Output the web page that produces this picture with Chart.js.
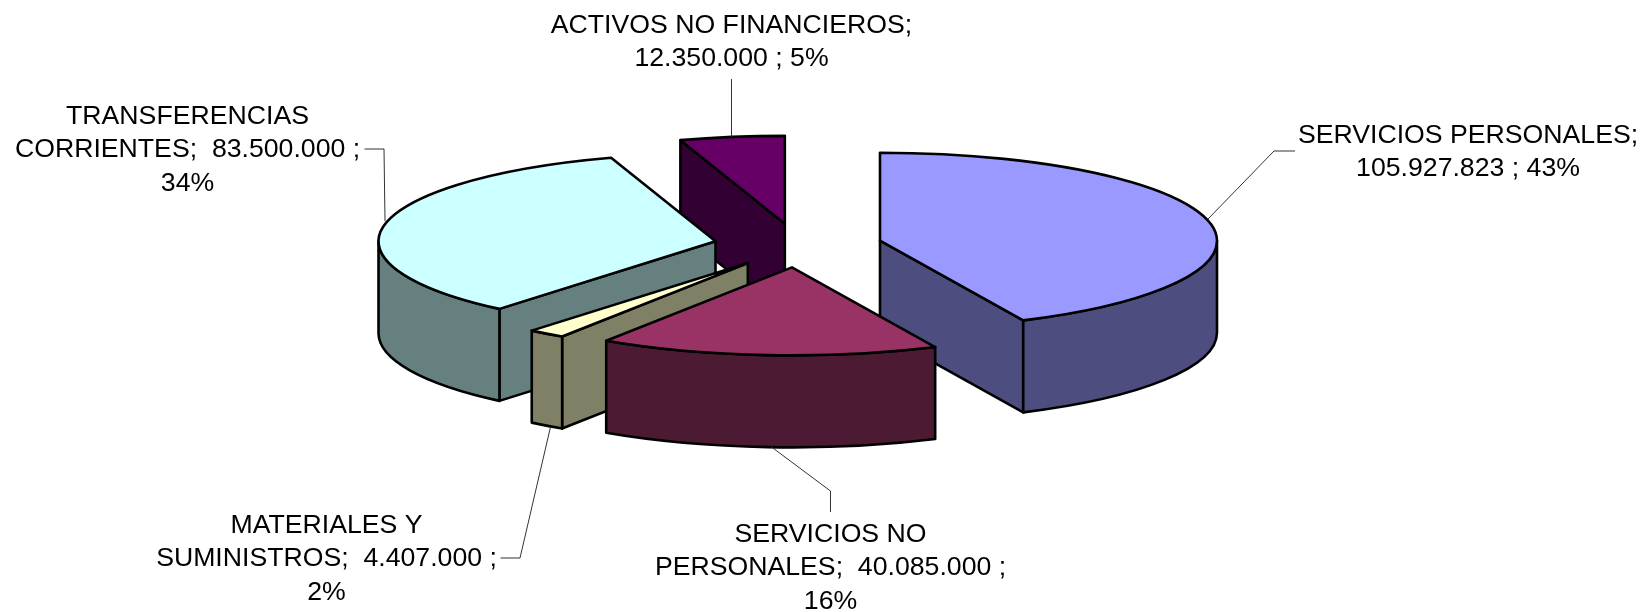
<!DOCTYPE html>
<html>
<head>
<meta charset="utf-8">
<style>
html,body{margin:0;padding:0;background:#fff;}
canvas{display:block;}
</style>
<script src="https://cdn.jsdelivr.net/npm/chart.js@4/dist/chart.umd.min.js"></script>
</head>
<body>
<canvas id="c" width="1646" height="612"></canvas>
<script>
const categories = ["SERVICIOS PERSONALES","SERVICIOS NO PERSONALES","MATERIALES Y SUMINISTROS","TRANSFERENCIAS CORRIENTES","ACTIVOS NO FINANCIEROS"];
const values = [105927823, 40085000, 4407000, 83500000, 12350000];
const topColors = ["#9999FF","#993366","#FFFFCC","#CCFFFF","#660066"];
const wallColors = ["#4D4D80","#4D1A33","#808066","#668080","#330033"];

const labelLines = [
  ["SERVICIOS PERSONALES;","105.927.823 ; 43%"],
  ["SERVICIOS NO","PERSONALES;  40.085.000 ;","16%"],
  ["MATERIALES Y","SUMINISTROS;  4.407.000 ;","2%"],
  ["TRANSFERENCIAS","CORRIENTES;  83.500.000 ;","34%"],
  ["ACTIVOS NO FINANCIEROS;","12.350.000 ; 5%"]
];
const labelAnchors = [[1468,143],[830.5,542],[326.5,533],[187.5,124],[731.5,33]];
const leaders = [
  [[1295,151],[1274,151],[1208,219]],
  [[830.5,512],[830.5,491],[771.5,447]],
  [[500.5,558],[520,558],[550.5,427]],
  [[364.5,149],[384,149],[385,221]],
  [[731.5,79],[731.5,137]]
];
const drawOrder = [4,3,2,0,1];

const RADIUS = 337, SQUASH = 88/337, EXPLODE = 84, DEPTH = 92, CENTER_X = 798, CENTER_Y = 245.5;
const FONT = '26.67px "Liberation Sans", Arial, sans-serif', LINE_H = 33.3;

const pie3d = {
  id:'pie3d',
  beforeDatasetsDraw(chart){
    const ctx = chart.ctx;
    const arcs = chart.getDatasetMeta(0).data;
    ctx.save();
    ctx.lineJoin = 'round';
    ctx.lineCap = 'round';
    ctx.lineWidth = 2.6;
    ctx.strokeStyle = '#000';
    drawOrder.forEach(i => {
      const arc = arcs[i];
      const a0 = arc.startAngle, a1 = arc.endAngle, mid = (a0+a1)/2;
      const R = arc.outerRadius, ry = R*SQUASH;
      const ox = EXPLODE*Math.cos(mid), oy = EXPLODE*Math.sin(mid);
      const sx = arc.x + ox, sy = arc.y + oy*SQUASH;
      const pt = a => [sx + R*Math.cos(a), sy + ry*Math.sin(a)];
      ctx.fillStyle = wallColors[i];
      const face = a => {
        const p = pt(a);
        ctx.beginPath();
        ctx.moveTo(sx,sy); ctx.lineTo(p[0],p[1]);
        ctx.lineTo(p[0],p[1]+DEPTH); ctx.lineTo(sx,sy+DEPTH);
        ctx.closePath(); ctx.fill(); ctx.stroke();
      };
      if (Math.cos(a0) < -1e-6) face(a0);
      if (Math.cos(a1) > 1e-6) face(a1);
      const w0 = Math.max(a0,0), w1 = Math.min(a1,Math.PI);
      if (w1 > w0) {
        ctx.beginPath();
        ctx.ellipse(sx,sy,R,ry,0,w0,w1,false);
        ctx.ellipse(sx,sy+DEPTH,R,ry,0,w1,w0,true);
        ctx.closePath(); ctx.fill(); ctx.stroke();
      }
      ctx.save();
      ctx.translate(0,arc.y); ctx.scale(1,SQUASH); ctx.translate(0,-arc.y);
      ctx.translate(ox,oy);
      arc.draw(ctx);
      ctx.restore();
      const p = pt(a0);
      ctx.beginPath();
      ctx.moveTo(sx,sy); ctx.lineTo(p[0],p[1]);
      ctx.ellipse(sx,sy,R,ry,0,a0,a1,false);
      ctx.closePath(); ctx.stroke();
    });
    ctx.restore();
    return false;
  },
  afterDraw(chart){
    const ctx = chart.ctx;
    ctx.save();
    ctx.strokeStyle = '#333';
    ctx.lineWidth = 1;
    leaders.forEach(l => {
      ctx.beginPath();
      l.forEach((p,j) => j ? ctx.lineTo(p[0],p[1]) : ctx.moveTo(p[0],p[1]));
      ctx.stroke();
    });
    ctx.fillStyle = '#000';
    ctx.font = FONT;
    ctx.textAlign = 'center';
    ctx.textBaseline = 'alphabetic';
    labelLines.forEach((lines,i) => lines.forEach((t,j) =>
      ctx.fillText(t,labelAnchors[i][0],labelAnchors[i][1]+j*LINE_H)));
    ctx.restore();
  }
};

new Chart(document.getElementById('c'),{
  type:'pie',
  data:{labels:categories,datasets:[{data:values,backgroundColor:topColors,borderWidth:0}]},
  options:{
    responsive:false,animation:false,events:[],
    radius:RADIUS,
    layout:{padding:{left:0,top:0,right:1646-2*CENTER_X,bottom:612-2*CENTER_Y}},
    plugins:{legend:{display:false},tooltip:{enabled:false},title:{display:false}}
  },
  plugins:[pie3d]
});
</script>
</body>
</html>
